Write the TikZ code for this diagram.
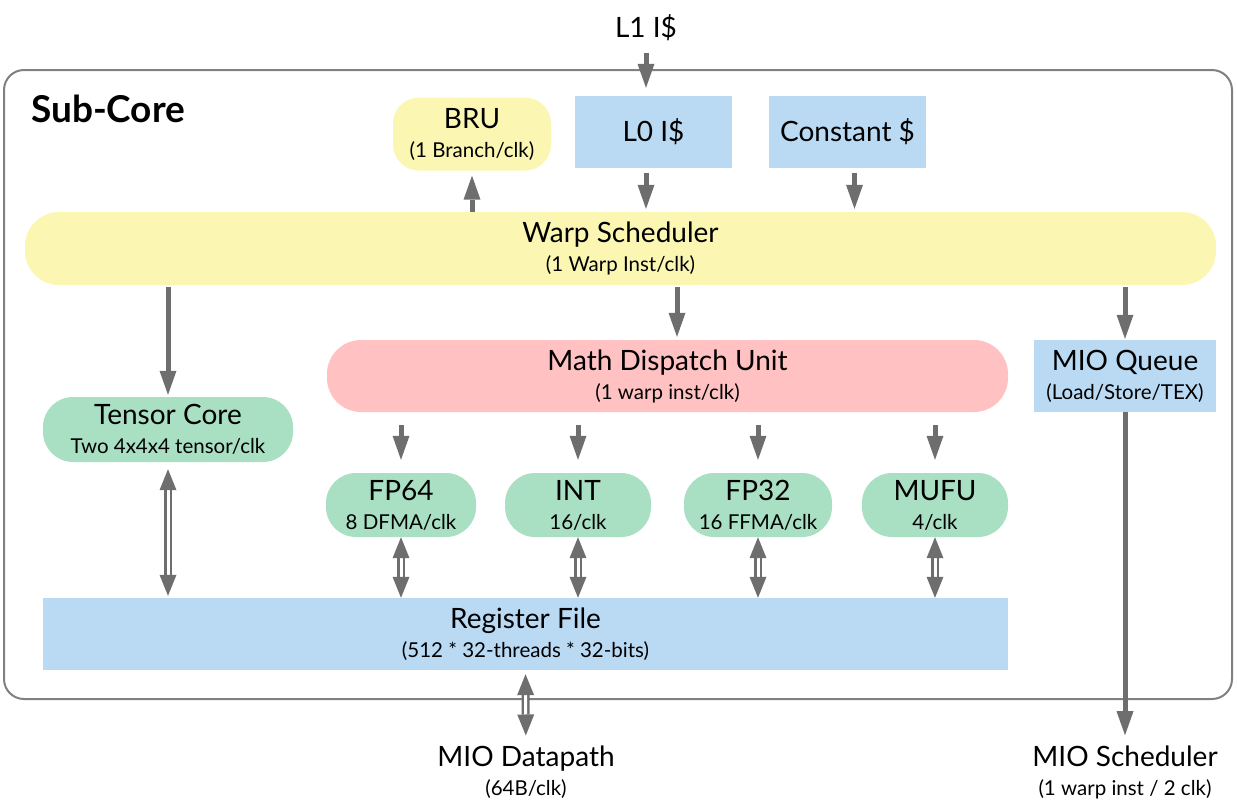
\documentclass[tikz,border=0pt]{standalone}
\usepackage{fontspec}
\setmainfont{Lato}
\usepackage{tikz}
\usetikzlibrary{arrows.meta}

\definecolor{schedyellow}{RGB}{251,246,178}
\definecolor{cacheblue}{RGB}{186,218,244}
\definecolor{unitgreen}{RGB}{169,223,195}
\definecolor{dispatchpink}{RGB}{255,193,193}
\definecolor{arrowgray}{RGB}{110,110,110}
\definecolor{framegray}{RGB}{128,128,128}

\newcommand{\mainsize}{\fontsize{28}{26}\selectfont}
\newcommand{\subsize}{\fontsize{20.5}{26}\selectfont}
\newcommand{\subline}[1]{\\[3pt]{\subsize #1}}

\begin{document}
\begin{tikzpicture}[x=1pt, y=-1pt,
	box/.style={inner sep=0pt, align=center, font=\mainsize},
	cache/.style={box, fill=cacheblue},
	sched/.style={box, fill=schedyellow, rounded corners=34pt},
	unit/.style={box, fill=unitgreen, rounded corners=30pt, minimum width=148pt, minimum height=64pt},
	frame/.style={draw=framegray, line width=2pt, rounded corners=20pt},
	flow/.style={draw=arrowgray, line width=5pt, -{Triangle[length=24pt,width=17pt,line width=0pt]}},
	dbl/.style={draw=arrowgray, line width=2.5pt, double=white, double distance=3pt,
		{Triangle[length=21pt,width=17pt,line width=0pt]}-{Triangle[length=21pt,width=17pt,line width=0pt]}}
]

	\useasboundingbox (0,0) rectangle (1237,804);

	% sub-core frame
	\draw[frame] (4,70) rectangle (1232,699);
	\node[anchor=base west, inner sep=0pt, font=\fontsize{37}{37}\selectfont\bfseries] (subcore) at (31,122) {Sub-Core};

	% fetch side
	\node[box] (l1) at (646,28) {L1 I\$};
	\node[sched, rounded corners=26pt, minimum width=158pt, minimum height=73pt] (bru) at (472,134) {BRU\subline{(1 Branch/clk)}};
	\node[cache, minimum width=157pt, minimum height=72pt] (l0) at (653.5,132) {L0 I\$};
	\node[cache, minimum width=157pt, minimum height=72pt] (const) at (847.5,132) {Constant \$};

	\node[sched, minimum width=1191pt, minimum height=73pt] (warp) at (620.5,248.5) {Warp Scheduler\subline{(1 Warp Inst/clk)}};

	% execution side
	\node[box, fill=dispatchpink, rounded corners=34pt, minimum width=681pt, minimum height=72pt] (mdu) at (667.5,376) {Math Dispatch Unit\subline{(1 warp inst/clk)}};
	\node[cache, minimum width=182pt, minimum height=72pt] (mioq) at (1125,376) {MIO Queue\subline{(Load/Store/TEX)}};
	\node[unit, minimum width=250pt, minimum height=65pt] (tensor) at (168,429.5) {Tensor Core\subline{Two 4x4x4 tensor/clk}};

	\node[unit, minimum width=150pt] (fp64) at (401,505) {FP64\subline{8 DFMA/clk}};
	\node[unit, minimum width=146pt] (int) at (578,505) {INT\subline{16/clk}};
	\node[unit] (fp32) at (758,505) {FP32\subline{16 FFMA/clk}};
	\node[unit, minimum width=146pt] (mufu) at (935,505) {MUFU\subline{4/clk}};

	\node[cache, minimum width=965pt, minimum height=72pt] (rf) at (525.5,634) {Register File\subline{(512 * 32-threads * 32-bits)}};

	\node[box] (miodp) at (526,772) {MIO Datapath\subline{(64B/clk)}};
	\node[box] (miosch) at (1125,772) {MIO Scheduler\subline{(1 warp inst / 2 clk)}};

	\coordinate (mdutop) at ([xshift=9.5pt]mdu.north);
	\coordinate (consttap) at ([xshift=7pt]const.south);

	% connectors
	\draw[flow, shorten <=12pt, shorten >=8pt] (l1) -- (l1 |- l0.north);
	\draw[flow, shorten <=5pt, shorten >=3pt] (l0.south -| l1) -- (warp.north -| l1);
	\draw[flow, shorten <=5pt, shorten >=3pt] (consttap) -- (consttap |- warp.north);
	\draw[flow, shorten >=5pt] (warp.north -| bru) -- (bru.south);
	\draw[flow, shorten <=2pt, shorten >=2pt] (warp.south -| tensor) -- (tensor.north);
	\draw[flow, shorten <=2pt, shorten >=3pt] (warp.south -| mdutop) -- (mdutop);
	\draw[flow, shorten <=2pt, shorten >=1pt] (warp.south -| mioq) -- (mioq.north);

	\foreach \u in {fp64,int,fp32,mufu}{
		\draw[flow, shorten <=13pt, shorten >=13pt] (mdu.south -| \u) -- (\u.north);
		\draw[dbl] (\u.south) -- (rf.north -| \u);
	}

	\draw[dbl, shorten <=7pt, shorten >=2pt] (tensor.south) -- (rf.north -| tensor);
	\draw[dbl, shorten <=4pt, shorten >=10pt] (rf.south) -- (miodp);
	\draw[flow, shorten >=10pt] (mioq.south) -- (miosch);

\end{tikzpicture}
\end{document}
